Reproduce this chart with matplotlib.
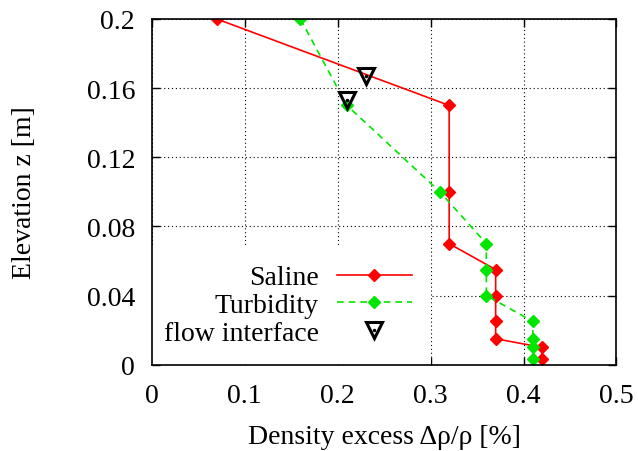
import matplotlib
matplotlib.use('Agg')
import matplotlib.pyplot as plt
from matplotlib.legend_handler import HandlerTuple

plt.rcParams['font.family'] = ['Liberation Serif', 'DejaVu Serif']

# elevation z [m] and density excess [%]
saline_z = [0.2, 0.15, 0.1, 0.07, 0.055, 0.04, 0.025, 0.015, 0.01, 0.003]
saline_d = [0.07, 0.32, 0.32, 0.32, 0.37, 0.37, 0.37, 0.37, 0.42, 0.42]

turb_z = [0.2, 0.15, 0.1, 0.07, 0.055, 0.04, 0.025, 0.015, 0.01, 0.003]
turb_d = [0.16, 0.21, 0.31, 0.36, 0.36, 0.36, 0.41, 0.41, 0.41, 0.41]

iface_d = [0.23, 0.21]
iface_z = [0.167, 0.153]

xticks = [0, 0.1, 0.2, 0.3, 0.4, 0.5]
yticks = [0, 0.04, 0.08, 0.12, 0.16, 0.2]
yticklabels = ['0', '0.04', '0.08', '0.12', '0.16', '0.2']

fig = plt.figure(figsize=(6.38, 4.52), dpi=100)
ax = fig.add_axes([0.2378, 0.191, 0.7285, 0.7648])

l1, = ax.plot(saline_d, saline_z, '-', color='#ff0000', lw=1.2,
              marker='D', ms=6.5, mec='#ff0000', mfc='#ff0000', label='Saline')
l2, = ax.plot(turb_d, turb_z, '--', color='#00e600', lw=1.2, dashes=(4, 3),
              marker='D', ms=6.5, mec='#00e600', mfc='#00e600', label='Turbidity')
t1, = ax.plot(iface_d, iface_z, ls='none', marker='v', ms=11.5, mfc='none',
              mec='black', mew=2.2)
t2, = ax.plot(iface_d, iface_z, ls='none', marker='o', ms=1.5, mfc='black',
              mec='black')

ax.set_xlim(0, 0.5)
ax.set_ylim(0, 0.2)
ax.set_xticks(xticks)
ax.set_xticklabels([f'{v:g}' for v in xticks])
ax.set_yticks(yticks)
ax.set_yticklabels(yticklabels)
ax.tick_params(direction='in', length=6, width=1.0, top=True, right=True,
               labelsize=20, color='black')
ax.tick_params(axis='y', pad=12)
ax.tick_params(axis='x', pad=13)
ax.grid(True, color='black', linestyle=(0, (1, 2.5)), lw=0.8)
for s in ax.spines.values():
    s.set_linewidth(1.2)

ax.set_xlabel('Density excess Δρ/ρ [%]', fontsize=20, labelpad=12)
ax.set_ylabel('Elevation z [m]', fontsize=20, labelpad=36)

leg = ax.legend([l1, l2, (t1, t2)], ['Saline', 'Turbidity', 'flow interface'],
                handler_map={tuple: HandlerTuple(ndivide=1)},
                loc='lower right', bbox_to_anchor=(0.6, 0.0),
                markerfirst=False, fontsize=20, frameon=True,
                fancybox=False, framealpha=1, facecolor='white',
                edgecolor='none', handlelength=2.7, handletextpad=0.65,
                labelspacing=0.08, borderpad=0.68, borderaxespad=0.0,
                numpoints=1)
leg.set_zorder(1.5)

fig.savefig('out.png', dpi=100)
